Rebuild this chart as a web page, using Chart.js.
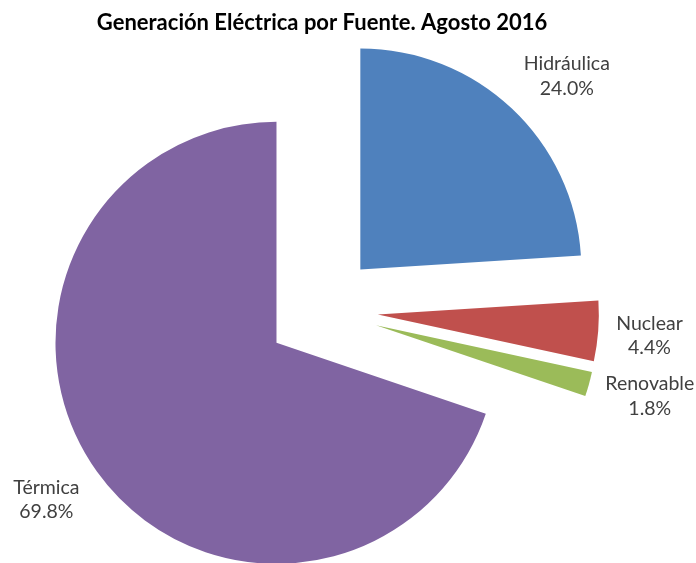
<!DOCTYPE html>
<html lang="es">
<head>
<meta charset="utf-8">
<title>Generación Eléctrica por Fuente</title>
<script src="https://cdn.jsdelivr.net/npm/chart.js@4.4.1/dist/chart.umd.min.js"></script>
<style>
  html, body { margin: 0; padding: 0; background: #fff; }
  #wrap { width: 696px; height: 563px; }
</style>
</head>
<body>
<div id="wrap"><canvas id="chart" width="696" height="563"></canvas></div>
<script>
// generation share by source, August 2016 (percent)
const categories = ["Hidráulica", "Nuclear", "Renovable", "Térmica"];
const shares = [24.0, 4.4, 1.8, 69.8];
const colors = ["#4F81BD", "#C0504D", "#9BBB59", "#8064A2"];

// how far each slice is pulled out, gap between slice rim and label,
// and a small hand nudge per label (px)
const explode = [56, 56, 56, 56];
const labelGap = [28, 16, 17, 14];
const labelShift = [[13, 13], [2, 1], [0, -5], [-6, -4]];
const labelFont = "19.5px Lato";
const labelLineHeight = 24.5;

// draw slices pulled away from the centre along their mid angle
const explodePlugin = {
  id: "explode",
  beforeDatasetDraw(chart, args) {
    const ctx = chart.ctx;
    args.meta.data.forEach((arc, i) => {
      const mid = (arc.startAngle + arc.endAngle) / 2;
      ctx.save();
      ctx.translate(Math.cos(mid) * explode[i], Math.sin(mid) * explode[i]);
      arc.draw(ctx);
      ctx.restore();
    });
    return false;
  }
};

// name + percentage outside each slice
const labelPlugin = {
  id: "sliceLabels",
  afterDatasetsDraw(chart) {
    const ctx = chart.ctx;
    const meta = chart.getDatasetMeta(0);
    ctx.save();
    ctx.font = labelFont;
    ctx.fillStyle = "#404040";
    ctx.textAlign = "center";
    ctx.textBaseline = "middle";
    meta.data.forEach((arc, i) => {
      const mid = (arc.startAngle + arc.endAngle) / 2;
      const dx = Math.cos(mid), dy = Math.sin(mid);
      const lines = [categories[i], shares[i].toFixed(1) + "%"];
      const w = Math.max(...lines.map(t => ctx.measureText(t).width));
      const h = lines.length * labelLineHeight;
      const edge = Math.min(w / 2 / Math.abs(dx), h / 2 / Math.abs(dy));
      const d = explode[i] + arc.outerRadius + labelGap[i] + edge;
      const cx = arc.x + dx * d + labelShift[i][0];
      const cy = arc.y + dy * d + labelShift[i][1];
      lines.forEach((t, j) => {
        ctx.fillText(t, cx, cy + (j - (lines.length - 1) / 2) * labelLineHeight);
      });
    });
    ctx.restore();
  }
};

new Chart(document.getElementById("chart"), {
  type: "pie",
  data: {
    labels: categories,
    datasets: [{
      data: shares,
      backgroundColor: colors,
      borderWidth: 0,
      radius: 221
    }]
  },
  options: {
    responsive: false,
    animation: false,
    events: [],
    layout: { padding: { left: 0, right: 52, top: 0, bottom: 0 } },
    plugins: {
      legend: { display: false },
      tooltip: { enabled: false },
      title: {
        display: true,
        text: "Generación Eléctrica por Fuente. Agosto 2016",
        color: "#000",
        font: { family: "Lato", size: 22, weight: "bold" },
        padding: { top: 10, bottom: 21 }
      }
    }
  },
  plugins: [explodePlugin, labelPlugin]
});
</script>
</body>
</html>
